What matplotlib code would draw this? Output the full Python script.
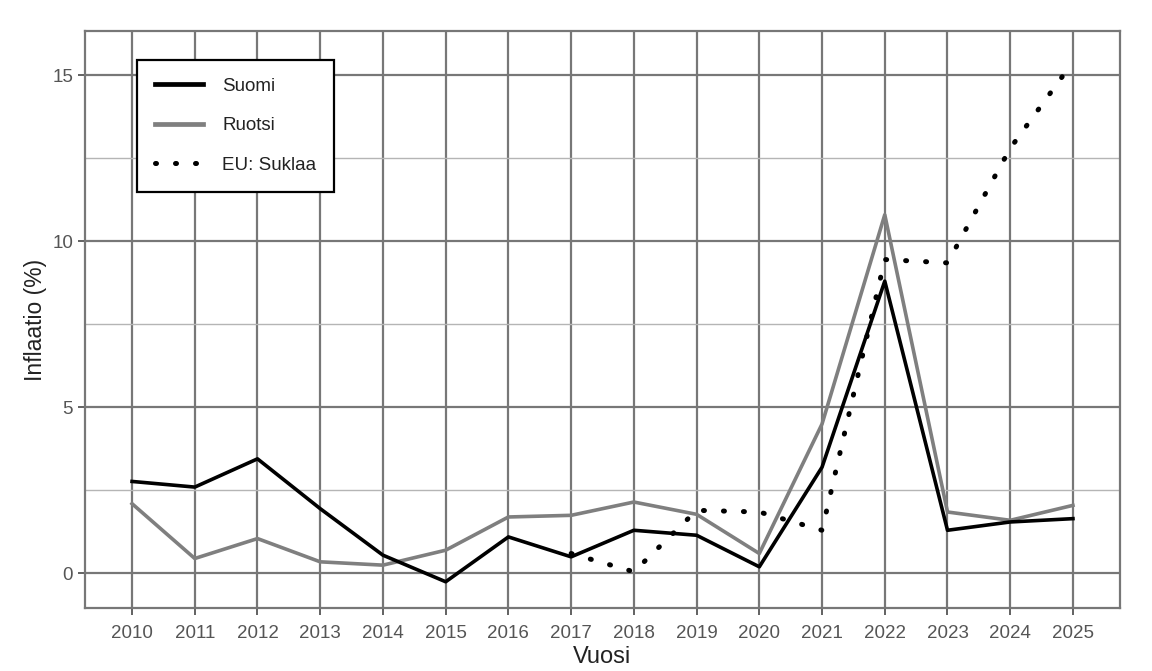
import numpy as np
import matplotlib
matplotlib.use('Agg')
import matplotlib.pyplot as plt
from matplotlib.ticker import MultipleLocator

plt.rcParams['font.family'] = ['Liberation Sans', 'DejaVu Sans']

years = list(range(2010, 2026))
suomi = [2.77, 2.6, 3.45, 1.95, 0.55, -0.25, 1.1, 0.5, 1.3, 1.15, 0.2, 3.2, 8.8, 1.3, 1.55, 1.65]
ruotsi = [2.1, 0.45, 1.05, 0.35, 0.25, 0.7, 1.7, 1.75, 2.15, 1.78, 0.6, 4.5, 10.8, 1.85, 1.6, 2.05]
eu_years = list(range(2017, 2026))
eu_suklaa = [0.6, 0.05, 1.9, 1.85, 1.3, 9.45, 9.35, 12.8, 15.4]

fig = plt.figure(figsize=(11.52, 6.71), dpi=100)
fig.patch.set_facecolor('white')
ax = fig.add_axes([85 / 1152, 1 - 608 / 671, (1120 - 85) / 1152, (608 - 31) / 671])

ax.plot(years, suomi, color='black', lw=2.6, label='Suomi', zorder=4)
ax.plot(years, ruotsi, color='#7f7f7f', lw=2.6, label='Ruotsi', zorder=3)
ax.plot(eu_years, eu_suklaa, color='black', lw=3.6, linestyle=(0, (0.2, 3.8)),
        dash_capstyle='round', label='EU: Suklaa', zorder=5)

ax.set_xlim(2009.25, 2025.75)
ax.set_ylim(-1.04, 16.33)
ax.set_xticks(years)
ax.set_yticks([0, 5, 10, 15])
ax.yaxis.set_minor_locator(MultipleLocator(2.5))

ax.grid(True, which='major', color='#777777', lw=1.6, zorder=1)
ax.grid(True, which='minor', axis='y', color='#b5b5b5', lw=1.0, zorder=1)
ax.set_axisbelow(True)
for s in ax.spines.values():
    s.set_color('#777777')
    s.set_linewidth(1.6)

ax.tick_params(axis='both', which='major', colors='#555555', labelcolor='#555555',
               labelsize=13.5, length=5, width=1.3)
ax.tick_params(axis='x', pad=7)
ax.tick_params(axis='y', which='minor', length=0)
ax.set_xlabel('Vuosi', fontsize=17, color='#222222', labelpad=3)
ax.set_ylabel('Inflaatio (%)', fontsize=16.5, color='#222222', labelpad=4)

leg = ax.legend(loc='upper left', bbox_to_anchor=(0.05, 0.95), fontsize=13.5,
                frameon=True, fancybox=False, framealpha=1, edgecolor='black',
                handlelength=2.6, borderpad=0.95, labelspacing=1.2, handletextpad=1.0,
                borderaxespad=0)
leg.get_frame().set_linewidth(1.6)
for t in leg.get_texts():
    t.set_color('#222222')
for h in leg.get_lines()[:2]:
    h.set_linewidth(3.4)

fig.savefig('out.png', dpi=100, facecolor='white')
